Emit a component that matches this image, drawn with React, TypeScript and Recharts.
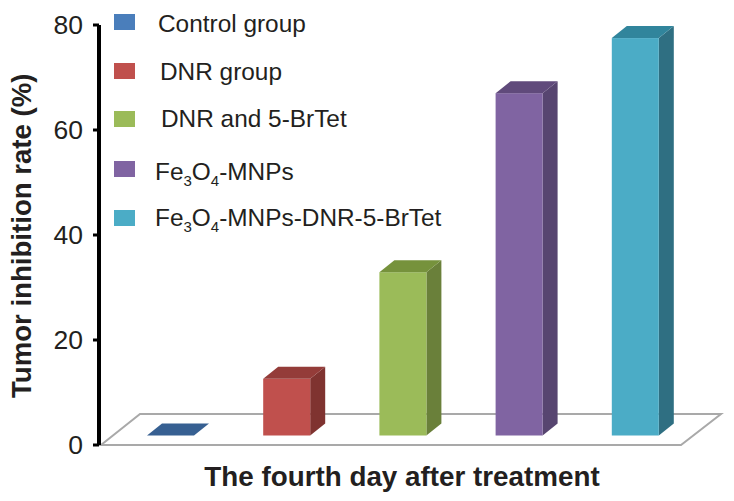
import React from "react";
import { BarChart, Bar, XAxis, YAxis, Legend, ReferenceArea, Cell } from "recharts";

const categories = ["Control group", "DNR group", "DNR and 5-BrTet", "Fe3O4-MNPs", "Fe3O4-MNPs-DNR-5-BrTet"];
const inhibitionRate = [0, 10.8, 31.1, 65.2, 75.7];
const yTicks = [0, 20, 40, 60, 80];
const frontColors = ["#376092", "#c0504d", "#9bbb59", "#8064a2", "#4bacc6"];
const sideColors = ["#376092", "#7f3330", "#6a803a", "#574570", "#2f6f82"];
const topColors = ["#376092", "#943c39", "#76923c", "#604a7b", "#31859c"];
const legendColors = ["#4a7ebb", "#c0504d", "#9bbb59", "#8064a2", "#4bacc6"];

const data = categories.map((name, i) => ({ name, value: inhibitionRate[i] }));

const FONT = "'Liberation Sans', Arial, sans-serif";
const INK = "#231f20";
const FLOOR_LIFT = 9.5;
const DX = 15;
const DY = 12;
const PAD_LEFT = 13;
const PAD_RIGHT = 28;
const FLOOR_LEFT = 11;

function Bar3D(props: any) {
  const { x, y, width, height, index } = props;
  const yTop = y - FLOOR_LIFT;
  const yBot = y + height - FLOOR_LIFT;
  const r = x + width;
  return (
    <g>
      {height > 0 && (
        <>
          <polygon points={`${r},${yTop} ${r + DX},${yTop - DY} ${r + DX},${yBot - DY} ${r},${yBot}`} fill={sideColors[index]} />
          <rect x={x} y={yTop} width={width} height={height} fill={frontColors[index]} />
        </>
      )}
      <polygon points={`${x},${yTop} ${r},${yTop} ${r + DX},${yTop - DY} ${x + DX},${yTop - DY}`} fill={topColors[index]} />
    </g>
  );
}

function Floor(props: any) {
  const { x, y, width, height } = props;
  const b = y + height;
  const left = x - FLOOR_LEFT;
  const right = x + width + PAD_RIGHT;
  const pts = `${left},${b} ${right - 40},${b} ${right},${y} ${left + 39},${y}`;
  return <polygon points={pts} fill="#ffffff" stroke="#a9a9a9" strokeWidth={2} />;
}

function name(label: string) {
  const parts = label.split(/(?<=Fe)3|(?<=O)4/);
  if (parts.length === 1) return <tspan>{label}</tspan>;
  return (
    <>
      <tspan>{parts[0]}</tspan>
      <tspan fontSize={15} dy={6}>3</tspan>
      <tspan dy={-6}>{parts[1]}</tspan>
      <tspan fontSize={15} dy={6}>4</tspan>
      <tspan dy={-6}>{parts[2]}</tspan>
    </>
  );
}

const legendTextX = [158, 160, 161, 155, 155];
const legendTextY = [32, 80, 127, 180, 226];
const legendBoxY = [14, 63, 111, 161, 210];

function LegendContent() {
  return (
    <svg width={734} height={240} style={{ display: "block", overflow: "visible" }}>
      {categories.map((c, i) => (
        <g key={c}>
          <rect x={114} y={legendBoxY[i]} width={21} height={16} fill={legendColors[i]} />
          <text x={legendTextX[i]} y={legendTextY[i]} fontFamily={FONT} fontSize={24.4} fill={INK}>
            {name(c)}
          </text>
        </g>
      ))}
    </svg>
  );
}

export default function App() {
  return (
    <div style={{ position: "absolute", left: 0, top: 0, width: 734, height: 501, background: "#fff" }}>
      <BarChart width={734} height={501} data={data} margin={{ top: 25, right: 13, bottom: 0, left: 0 }} barSize={47}>
        <ReferenceArea y1={0} y2={5.9} ifOverflow="visible" shape={<Floor />} />
        <XAxis
          dataKey="name"
          tick={false}
          tickLine={false}
          axisLine={false}
          height={56}
          padding={{ left: PAD_LEFT, right: PAD_RIGHT }}
          label={{
            value: "The fourth day after treatment",
            position: "insideBottom",
            offset: 15,
            dx: -8,
            fontFamily: FONT,
            fontSize: 27.8,
            fontWeight: 700,
            fill: INK,
          }}
        />
        <YAxis
          width={99}
          domain={[0, 80]}
          ticks={yTicks}
          interval={0}
          tickSize={6}
          tickMargin={10}
          axisLine={{ stroke: "#000", strokeWidth: 4 }}
          tickLine={{ stroke: "#000", strokeWidth: 3 }}
          tick={{ fontFamily: FONT, fontSize: 26.5, fill: INK }}
          label={{
            value: "Tumor inhibition rate (%)",
            angle: -90,
            position: "insideLeft",
            offset: 0,
            dx: 21,
            dy: 163,
            fontFamily: FONT,
            fontSize: 27.6,
            fontWeight: 700,
            fill: INK,
          }}
        />
        <Legend
          layout="vertical"
          align="center"
          verticalAlign="middle"
          wrapperStyle={{ left: 0, top: 0, width: 734, height: 240, pointerEvents: "none" }}
          content={<LegendContent />}
        />
        <Bar dataKey="value" isAnimationActive={false} shape={<Bar3D />}>
          {data.map((d, i) => (
            <Cell key={d.name} fill={frontColors[i]} />
          ))}
        </Bar>
      </BarChart>
    </div>
  );
}
